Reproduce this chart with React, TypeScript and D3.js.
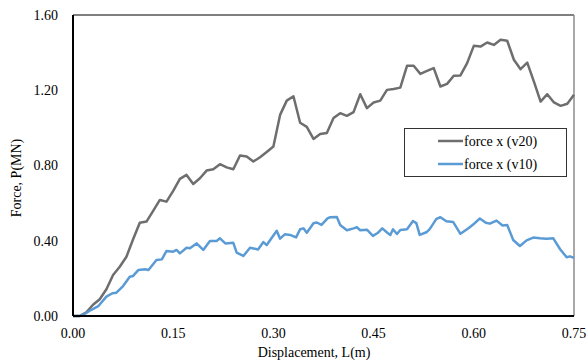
import React from "react";
import * as d3 from "d3";

const v20X = [0.00,0.01,0.02,0.03,0.04,0.05,0.06,0.07,0.08,0.09,0.10,0.11,0.12,0.13,0.14,0.15,0.16,0.17,0.18,0.19,0.20,0.21,0.22,0.23,0.24,0.25,0.26,0.27,0.28,0.29,0.30,0.31,0.32,0.33,0.34,0.35,0.36,0.37,0.38,0.39,0.40,0.41,0.42,0.43,0.44,0.45,0.46,0.47,0.48,0.49,0.50,0.51,0.52,0.53,0.54,0.55,0.56,0.57,0.58,0.59,0.60,0.61,0.62,0.63,0.64,0.65,0.66,0.67,0.68,0.69,0.70,0.71,0.72,0.73,0.74,0.75];
const v20Y = [0,0.000,0.020,0.060,0.089,0.142,0.218,0.262,0.315,0.408,0.496,0.502,0.559,0.617,0.608,0.665,0.729,0.750,0.702,0.732,0.773,0.780,0.807,0.790,0.780,0.853,0.848,0.821,0.844,0.872,0.901,1.069,1.145,1.168,1.027,1.005,0.941,0.967,0.973,1.052,1.078,1.064,1.084,1.179,1.105,1.135,1.145,1.202,1.207,1.214,1.330,1.330,1.287,1.303,1.318,1.220,1.234,1.277,1.279,1.344,1.436,1.432,1.454,1.441,1.468,1.463,1.362,1.312,1.347,1.246,1.140,1.179,1.135,1.117,1.128,1.176];

const v10X = [0.000,0.010,0.015,0.025,0.038,0.050,0.059,0.065,0.075,0.085,0.090,0.098,0.108,0.113,0.125,0.133,0.140,0.150,0.155,0.160,0.170,0.175,0.185,0.195,0.205,0.215,0.220,0.228,0.240,0.245,0.255,0.265,0.277,0.285,0.290,0.305,0.310,0.317,0.325,0.334,0.340,0.345,0.350,0.360,0.365,0.372,0.381,0.385,0.395,0.400,0.410,0.420,0.425,0.430,0.440,0.449,0.456,0.463,0.471,0.475,0.479,0.485,0.490,0.500,0.509,0.514,0.519,0.529,0.534,0.544,0.550,0.559,0.569,0.580,0.592,0.599,0.609,0.618,0.624,0.634,0.643,0.650,0.659,0.669,0.679,0.689,0.699,0.709,0.719,0.729,0.739,0.744,0.750];
const v10Y = [0.000,0.000,0.005,0.028,0.053,0.103,0.121,0.124,0.159,0.209,0.213,0.245,0.248,0.245,0.298,0.301,0.346,0.342,0.351,0.333,0.363,0.360,0.386,0.351,0.399,0.399,0.413,0.386,0.389,0.337,0.319,0.363,0.354,0.393,0.377,0.453,0.411,0.434,0.431,0.418,0.461,0.466,0.443,0.493,0.497,0.484,0.519,0.525,0.526,0.484,0.456,0.466,0.472,0.456,0.459,0.426,0.441,0.466,0.441,0.431,0.461,0.436,0.457,0.461,0.505,0.494,0.431,0.445,0.462,0.516,0.525,0.504,0.500,0.437,0.466,0.486,0.518,0.496,0.491,0.507,0.481,0.484,0.404,0.372,0.402,0.417,0.413,0.411,0.413,0.356,0.312,0.317,0.309];

const xTicks = [0, 0.15, 0.3, 0.45, 0.6, 0.75];
const yTicks = [0, 0.4, 0.8, 1.2, 1.6];
const seriesNames = ["force x (v20)", "force x (v10)"];
const seriesColors = ["#6e6e6e", "#5b9bd5"];

export default function App() {
  const W = 587, H = 363;
  const left = 73, right = 574, top = 15, bottom = 316;
  const x = d3.scaleLinear().domain([0, 0.75]).range([left, right]);
  const y = d3.scaleLinear().domain([0, 1.6]).range([bottom, top]);
  const line = d3.line<[number, number]>().x(d => x(d[0])).y(d => y(d[1]));
  const s20 = v20X.map((v, i) => [v, v20Y[i]] as [number, number]);
  const s10 = v10X.map((v, i) => [v, v10Y[i]] as [number, number]);
  const font = "'Liberation Serif', 'Times New Roman', serif";
  const fs = 14;
  return (
    <svg width={W} height={H} style={{ position: "absolute", left: 0, top: 0, background: "#fff" }} fontFamily={font}>
      <rect x={0} y={0} width={W} height={H} fill="#fff" />
      <line x1={left} y1={top} x2={right} y2={top} stroke="#000" strokeWidth={1} />
      <line x1={right} y1={top} x2={right} y2={bottom} stroke="#8c8c8c" strokeWidth={1.5} />
      <path d={line(s20) || ""} fill="none" stroke={seriesColors[0]} strokeWidth={2.5} strokeLinejoin="round" />
      <path d={line(s10) || ""} fill="none" stroke={seriesColors[1]} strokeWidth={2.5} strokeLinejoin="round" />
      <line x1={left} y1={top} x2={left} y2={bottom} stroke="#000" strokeWidth={2} />
      <line x1={left} y1={bottom} x2={right} y2={bottom} stroke="#000" strokeWidth={2} />
      {yTicks.map(t => (
        <text key={"y" + t} x={58} y={y(t)} dy="0.35em" textAnchor="end" fontSize={fs} fill="#000">{t.toFixed(2)}</text>
      ))}
      {xTicks.map(t => (
        <text key={"x" + t} x={x(t)} y={338} textAnchor="middle" fontSize={fs} fill="#000">{t.toFixed(2)}</text>
      ))}
      <text x={314} y={357} textAnchor="middle" fontSize={fs} fill="#000">Displacement, L(m)</text>
      <text transform="translate(21,178) rotate(-90)" textAnchor="middle" fontSize={fs} fill="#000">Force, P(MN)</text>
      <rect x={404.5} y={128.5} width={162} height={48} fill="#fff" stroke="#333" strokeWidth={1} />
      {seriesNames.map((n, i) => (
        <g key={n}>
          <line x1={438} x2={463} y1={141 + i * 23} y2={141 + i * 23} stroke={seriesColors[i]} strokeWidth={2.5} />
          <text x={464} y={141 + i * 23} dy="0.35em" fontSize={fs} fill="#000">{n}</text>
        </g>
      ))}
    </svg>
  );
}
